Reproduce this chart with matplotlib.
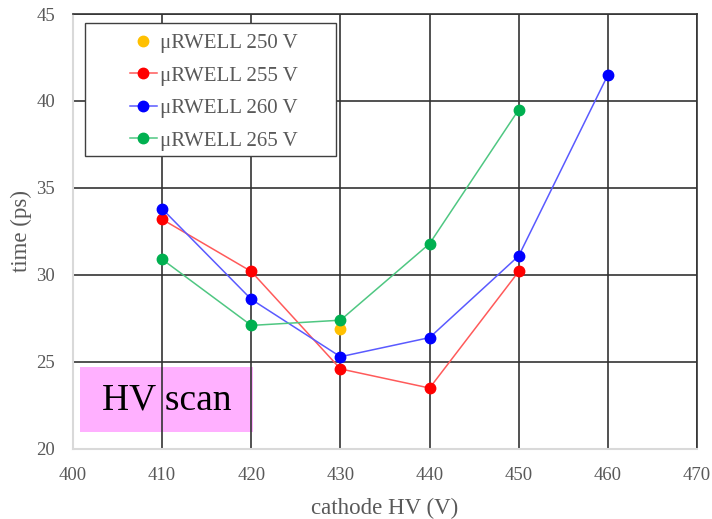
import matplotlib
matplotlib.use("Agg")
from matplotlib import pyplot as plt
from matplotlib.patches import Rectangle

plt.rcParams['font.family'] = ['Liberation Serif', 'DejaVu Serif']

# cathode HV (V) and time resolution (ps) per uRWELL voltage
hv_250 = [430]
time_250 = [26.9]

hv_255 = [410, 420, 430, 440, 450]
time_255 = [33.2, 30.2, 24.6, 23.5, 30.2]

hv_260 = [410, 420, 430, 440, 450, 460]
time_260 = [33.8, 28.6, 25.3, 26.4, 31.1, 41.5]

hv_265 = [410, 420, 430, 440, 450]
time_265 = [30.9, 27.1, 27.4, 31.8, 39.5]

x_ticks = [400, 410, 420, 430, 440, 450, 460, 470]
y_ticks = [20, 25, 30, 35, 40, 45]

grey_text = '#595959'
grid_color = '#333333'

figure = plt.figure(figsize=(7.12, 5.19), dpi=100)
axis = figure.add_axes([0.1025, 0.135, 0.8765, 0.838])

axis.plot(hv_250, time_250, linestyle='none', marker='o', markersize=7.5,
          color='#FFC000', label='\u03bcRWELL 250 V', zorder=3)
axis.plot(hv_255, time_255, color='#ff5a5a', linewidth=1.1, marker='o', markersize=7.5,
          markerfacecolor='#ff0000', markeredgecolor='#ff0000', label='\u03bcRWELL 255 V', zorder=3)
axis.plot(hv_260, time_260, color='#5a5aff', linewidth=1.1, marker='o', markersize=7.5,
          markerfacecolor='#0000ff', markeredgecolor='#0000ff', label='\u03bcRWELL 260 V', zorder=3)
axis.plot(hv_265, time_265, color='#4fc782', linewidth=1.1, marker='o', markersize=7.5,
          markerfacecolor='#00b050', markeredgecolor='#00b050', label='\u03bcRWELL 265 V', zorder=3)

axis.set_xlim(400, 470)
axis.set_ylim(20, 45)
axis.set_xticks(x_ticks)
axis.set_yticks(y_ticks)
axis.grid(True, color=grid_color, linewidth=1.2, zorder=1)
axis.set_axisbelow(True)
axis.tick_params(length=0, labelsize=13.5, colors=grey_text)
axis.tick_params(axis='y', pad=13)
axis.tick_params(axis='x', pad=13)

for side in ['top', 'right']:
    axis.spines[side].set_color(grid_color)
    axis.spines[side].set_linewidth(1.2)
for side in ['left', 'bottom']:
    axis.spines[side].set_color('#d9d9d9')
    axis.spines[side].set_linewidth(1.5)

axis.set_xlabel('cathode HV (V)', fontsize=16.5, color=grey_text, labelpad=10)
axis.set_ylabel('time (ps)', fontsize=16.5, color=grey_text, labelpad=3)

# legend frame drawn separately so the entries can sit off-centre like the original
axis.add_patch(Rectangle((0.0192, 0.6736), 0.4023, 0.3057, transform=axis.transAxes,
                         facecolor='white', edgecolor='#404040', linewidth=1.0, zorder=2.5))
legend = axis.legend(loc='upper left', bbox_to_anchor=(0.0913, 0.955), fontsize=15,
                     frameon=False, borderpad=0, labelspacing=0.62,
                     handlelength=1.3, handletextpad=0.15, borderaxespad=0)
legend.set_zorder(5)
for text in legend.get_texts():
    text.set_color(grey_text)

# pink "HV scan" label box
axis.add_patch(Rectangle((0.011, 0.039), 0.277, 0.149, transform=axis.transAxes,
                         facecolor='#ffb0ff', edgecolor='none', zorder=0.2))
axis.text(0.1495, 0.113, 'HV scan', transform=axis.transAxes, fontsize=27,
          color='black', ha='center', va='center', zorder=5)

figure.savefig('out.png', dpi=100)
